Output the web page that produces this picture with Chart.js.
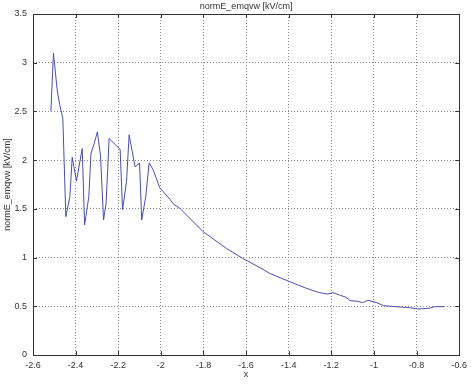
<!DOCTYPE html>
<html>
<head>
<meta charset="utf-8">
<script src="https://cdn.jsdelivr.net/npm/chart.js@4/dist/chart.umd.min.js"></script>
<style>
html,body{margin:0;padding:0;background:#fff;}
#wrap{width:472px;height:384px;position:relative;}
</style>
</head>
<body>
<div id="wrap"><canvas id="c" width="472" height="384"></canvas></div>
<script>
const chartTitle = "normE_emqvw [kV/cm]";
const xAxisLabel = "x";
const yAxisLabel = "normE_emqvw [kV/cm]";
const xValues = [-2.516,-2.504,-2.486,-2.474,-2.460,-2.446,-2.427,-2.416,-2.396,-2.369,-2.358,-2.338,-2.328,-2.313,-2.298,-2.283,-2.269,-2.257,-2.243,-2.191,-2.180,-2.161,-2.149,-2.121,-2.100,-2.090,-2.071,-2.055,-2.036,-2.005,-1.958,-1.940,-1.911,-1.802,-1.693,-1.615,-1.521,-1.490,-1.396,-1.318,-1.256,-1.217,-1.193,-1.162,-1.131,-1.112,-1.076,-1.053,-1.029,-0.990,-0.955,-0.897,-0.834,-0.795,-0.741,-0.717,-0.670];
const yValues = [2.50,3.10,2.71,2.56,2.43,1.42,1.625,2.03,1.785,2.12,1.335,1.625,2.07,2.17,2.29,2.04,1.386,1.557,2.222,2.11,1.49,1.78,2.26,1.93,1.97,1.386,1.625,1.972,1.90,1.715,1.60,1.547,1.506,1.266,1.095,0.99,0.88,0.839,0.753,0.685,0.64,0.626,0.64,0.616,0.592,0.558,0.551,0.537,0.561,0.54,0.506,0.496,0.486,0.472,0.479,0.496,0.496];
const xTicks = [-2.6,-2.4,-2.2,-2,-1.8,-1.6,-1.4,-1.2,-1,-0.8,-0.6];
const yTicks = [0,0.5,1,1.5,2,2.5,3,3.5];

const points = xValues.map((x,i)=>({x:x,y:yValues[i]}));
const FONT = {family:"'Liberation Sans', Arial, sans-serif", size:9};
const TXT = '#333';

const framePlugin = {
  id:'frame',
  afterDraw(chart){
    const {ctx, chartArea:a, scales} = chart;
    ctx.save();
    ctx.strokeStyle = '#333';
    ctx.lineWidth = 1;
    ctx.strokeRect(Math.round(a.left)+0.5, Math.round(a.top)+0.5, Math.round(a.right-a.left), Math.round(a.bottom-a.top));
    ctx.beginPath();
    xTicks.forEach(v=>{
      const px = Math.round(scales.x.getPixelForValue(v))+0.5;
      ctx.moveTo(px,a.bottom); ctx.lineTo(px,a.bottom-4);
      ctx.moveTo(px,a.top); ctx.lineTo(px,a.top+4);
    });
    yTicks.forEach(v=>{
      const py = Math.round(scales.y.getPixelForValue(v))+0.5;
      ctx.moveTo(a.left,py); ctx.lineTo(a.left+4,py);
      ctx.moveTo(a.right,py); ctx.lineTo(a.right-4,py);
    });
    ctx.stroke();
    ctx.fillStyle = TXT;
    ctx.font = FONT.size + "px " + FONT.family;
    ctx.textAlign = 'center';
    ctx.textBaseline = 'middle';
    ctx.fillText(chartTitle, (a.left+a.right)/2, 7);
    ctx.restore();
  }
};

new Chart(document.getElementById('c'), {
  type:'scatter',
  plugins:[framePlugin],
  data:{datasets:[{
    data:points,
    showLine:true,
    borderColor:'#4c4cae',
    borderWidth:1,
    pointRadius:0,
    tension:0,
    fill:false
  }]},
  options:{
    responsive:false,
    animation:false,
    devicePixelRatio:1,
    layout:{padding:{top:14,right:12,left:0,bottom:0}},
    plugins:{legend:{display:false},tooltip:{enabled:false},title:{display:false}},
    scales:{
      x:{
        type:'linear', min:-2.6, max:-0.6,
        afterBuildTicks(s){ s.ticks = xTicks.map(v=>({value:v})); },
        afterFit(s){ s.height = 29; },
        grid:{color:'#8a8a8a', drawTicks:false, lineWidth:1},
        border:{display:false, dash:[1,2]},
        ticks:{font:FONT, color:TXT, padding:5, maxRotation:0, callback:(v)=>String(Math.round(v*10)/10)},
        title:{display:true, text:xAxisLabel, font:FONT, color:TXT, padding:{top:0,bottom:4}}
      },
      y:{
        type:'linear', min:0, max:3.5,
        afterBuildTicks(s){ s.ticks = yTicks.map(v=>({value:v})); },
        afterFit(s){ s.width = 33; },
        grid:{color:'#8a8a8a', drawTicks:false, lineWidth:1},
        border:{display:false, dash:[1,2]},
        ticks:{font:FONT, color:TXT, padding:6, callback:(v)=>String(Math.round(v*10)/10)},
        title:{display:true, text:yAxisLabel, font:FONT, color:TXT, padding:{top:2,bottom:0}}
      }
    }
  }
});
</script>
</body>
</html>
